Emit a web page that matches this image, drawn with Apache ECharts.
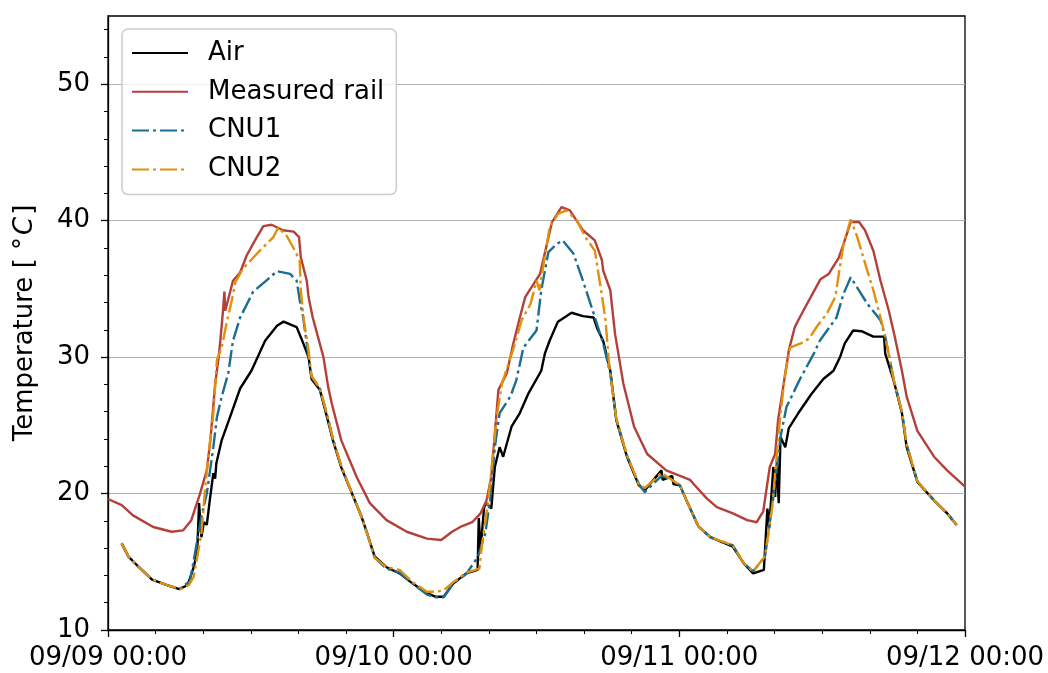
<!DOCTYPE html>
<html>
<head>
<meta charset="utf-8">
<script src="https://cdn.jsdelivr.net/npm/echarts@6/dist/echarts.min.js"></script>
<style>html,body{margin:0;padding:0;background:#fff;}#c{width:1048px;height:673px;}</style>
</head>
<body>
<div id="c"></div>
<script>
// ---- data (hours since 09/09 00:00, temperature in °C) ----
const seriesNames = ['Air', 'Measured rail', 'CNU1', 'CNU2'];
const xTickLabels = ['09/09 00:00', '09/10 00:00', '09/11 00:00', '09/12 00:00'];
const yMajorTicks = [10, 20, 30, 40, 50];
const yMinorTicks = [12, 14, 16, 18, 22, 24, 26, 28, 32, 34, 36, 38, 42, 44, 46, 48, 52, 54];

const air = [[1.15,16.35],[1.7,15.4],[2.6,14.6],[3.7,13.7],[4.9,13.3],[6.0,13.0],[6.7,13.3],[7.2,14.6],[7.5,15.8],[7.65,19.3],[7.85,16.8],[8.05,17.9],[8.3,17.7],[8.55,19.5],[8.85,21.5],[9.0,21.1],[9.1,22.2],[9.55,23.9],[10.25,25.6],[11.1,27.7],[12.05,29.0],[13.2,31.2],[14.2,32.3],[14.75,32.6],[15.85,32.2],[16.25,31.35],[16.85,30.0],[17.1,28.4],[17.8,27.6],[18.4,25.6],[18.9,23.9],[19.6,21.9],[20.5,20.0],[21.3,18.3],[21.8,17.0],[22.4,15.4],[23.4,14.6],[24.5,14.15],[25.6,13.4],[26.8,12.7],[27.5,12.44],[28.2,12.44],[29.0,13.4],[30.1,14.15],[31.05,14.4],[31.15,18.2],[31.3,15.9],[31.6,19.0],[31.8,19.3],[32.2,18.9],[32.5,21.95],[32.9,23.4],[33.2,22.7],[33.9,24.9],[34.6,25.9],[35.3,27.3],[36.4,29.0],[36.7,30.25],[37.1,31.2],[37.8,32.6],[38.95,33.25],[39.9,33.0],[40.8,32.9],[41.1,32.1],[41.6,31.2],[42.2,29.0],[42.7,25.4],[43.6,22.7],[44.6,20.6],[45.1,20.25],[46.5,21.7],[46.6,21.0],[47.4,21.3],[47.5,20.7],[48.05,20.6],[48.6,19.5],[49.6,17.6],[50.6,16.8],[52.5,16.1],[53.4,14.9],[54.2,14.15],[55.1,14.4],[55.4,18.9],[55.55,17.5],[55.9,21.95],[56.05,19.75],[56.2,22.4],[56.35,19.3],[56.5,24.15],[56.9,23.4],[57.2,24.8],[58.0,25.9],[59.1,27.3],[60.1,28.4],[60.95,29.0],[61.5,30.0],[61.9,31.0],[62.6,31.95],[63.3,31.9],[64.3,31.5],[65.2,31.5],[65.3,30.25],[66.0,28.3],[66.7,25.9],[67.1,23.4],[68.0,20.85],[69.4,19.5],[70.5,18.55],[71.3,17.7]];

const measuredRail = [[0,19.6],[1.15,19.15],[2.1,18.4],[3.8,17.55],[5.35,17.2],[6.3,17.3],[7.0,18.05],[7.7,19.9],[8.3,21.7],[8.6,23.9],[9.0,28.0],[9.3,30.0],[9.5,31.8],[9.65,33.3],[9.78,34.8],[9.85,33.4],[10.5,35.6],[11.1,36.2],[11.65,37.45],[12.35,38.55],[13.05,39.6],[13.75,39.7],[14.7,39.3],[15.6,39.2],[16.05,38.8],[16.2,37.3],[16.7,35.6],[16.85,34.4],[17.2,32.9],[18.1,30.0],[18.5,27.8],[18.8,26.6],[19.6,23.9],[20.9,21.2],[22.0,19.3],[23.4,18.05],[25.1,17.2],[26.8,16.7],[28.0,16.6],[28.9,17.2],[29.6,17.55],[30.6,17.9],[31.3,18.55],[31.8,19.5],[32.2,21.2],[32.5,24.4],[32.8,27.6],[33.5,28.8],[34.05,31.0],[34.6,32.9],[35.05,34.4],[36.3,36.1],[37.3,39.9],[38.1,41.0],[38.8,40.75],[39.9,39.3],[40.9,38.55],[41.5,37.1],[41.6,36.35],[42.2,34.9],[42.6,31.7],[43.3,28.05],[44.2,24.9],[45.3,22.9],[46.9,21.7],[47.9,21.35],[48.9,21.0],[49.2,20.7],[50.3,19.65],[51.15,19.0],[52.5,18.55],[53.7,18.05],[54.5,17.9],[55.05,18.7],[55.6,21.95],[56.05,22.9],[56.3,25.4],[56.6,27.1],[57.2,30.5],[57.7,32.2],[58.2,33.05],[59.85,35.7],[60.55,36.1],[61.4,37.3],[61.8,38.3],[62.4,39.9],[63.1,39.9],[63.6,39.3],[64.3,37.8],[64.9,35.6],[65.6,33.4],[66.1,31.5],[66.7,29.0],[67.1,27.1],[68.0,24.6],[69.4,22.7],[70.5,21.7],[72,20.5]];

const cnu1 = [[1.15,16.35],[1.7,15.4],[2.6,14.6],[3.7,13.7],[4.9,13.3],[6.0,13.0],[6.9,13.6],[7.3,15.6],[7.85,18.3],[8.3,20.0],[8.85,23.4],[9.15,25.6],[9.55,27.1],[10.1,28.8],[10.5,31.2],[11.1,32.9],[12.2,34.8],[13.3,35.6],[14.2,36.3],[15.3,36.1],[15.85,35.6],[16.1,34.2],[16.4,32.9],[16.85,30.0],[17.1,28.6],[17.8,27.7],[18.4,25.8],[18.9,24.0],[19.6,22.0],[20.5,20.0],[21.3,18.3],[21.8,17.0],[22.4,15.3],[23.4,14.5],[24.5,14.2],[25.6,13.4],[26.8,12.6],[27.5,12.4],[28.2,12.4],[29.0,13.4],[30.1,14.1],[31.1,15.4],[31.7,17.1],[32.1,19.5],[32.5,23.4],[32.9,25.9],[33.8,27.1],[34.3,28.3],[34.9,30.7],[36.0,31.95],[36.4,34.9],[37.0,37.7],[37.7,38.3],[38.2,38.55],[39.1,37.6],[39.9,35.6],[40.8,33.2],[41.6,31.0],[42.2,28.8],[42.7,25.5],[43.6,22.8],[44.6,20.7],[45.1,20.1],[46.5,21.3],[47.4,21.0],[48.05,20.6],[48.6,19.5],[49.6,17.6],[50.6,16.8],[52.5,16.2],[53.4,14.9],[54.2,14.3],[55.2,15.4],[55.9,19.75],[56.5,24.15],[57.0,26.35],[58.2,28.5],[59.3,30.25],[59.8,31.2],[61.2,32.9],[61.8,34.65],[62.4,35.85],[63.8,33.9],[64.9,32.7],[65.3,31.5],[66.0,28.4],[66.7,26.0],[67.1,23.6],[68.0,20.9],[69.4,19.5],[70.5,18.55],[71.3,17.7]];

const cnu2 = [[1.15,16.35],[1.7,15.4],[2.6,14.6],[3.7,13.7],[4.9,13.3],[6.1,13.0],[6.8,13.3],[7.2,13.9],[7.85,17.1],[8.15,20.25],[8.45,22.9],[8.85,25.9],[9.15,29.8],[9.55,30.7],[9.95,32.45],[10.4,34.15],[10.7,35.5],[11.35,36.5],[12.75,37.8],[13.9,38.8],[14.3,39.5],[15.0,38.9],[15.55,38.05],[16.1,37.1],[16.2,34.9],[16.45,32.7],[16.85,30.5],[17.1,28.6],[17.8,27.7],[18.4,25.8],[18.9,24.0],[19.6,22.0],[20.5,20.0],[21.3,18.3],[21.8,17.0],[22.4,15.3],[23.4,14.6],[24.5,14.4],[25.6,13.5],[26.8,12.8],[27.5,12.8],[28.2,12.9],[29.0,13.5],[30.1,14.2],[31.2,14.5],[31.4,16.1],[31.95,19.5],[32.4,23.4],[32.7,25.9],[33.1,28.05],[34.2,31.0],[34.75,32.7],[35.5,33.9],[36.0,35.6],[36.25,34.9],[36.6,36.85],[37.1,39.5],[37.8,40.5],[38.5,40.75],[39.4,40.0],[40.1,38.8],[40.9,37.8],[41.3,35.6],[41.55,34.2],[41.8,32.7],[42.1,29.5],[42.7,25.5],[43.6,22.8],[44.6,20.7],[45.1,20.4],[46.5,21.5],[47.4,21.0],[48.05,20.6],[48.6,19.5],[49.6,17.6],[50.6,16.8],[52.5,16.2],[53.4,14.9],[54.2,14.3],[55.2,15.4],[55.8,19.0],[56.5,25.9],[56.9,28.8],[57.3,30.7],[58.2,31.0],[58.9,31.35],[59.6,32.3],[60.4,33.2],[61.1,34.4],[61.4,36.1],[61.8,38.3],[62.4,40.1],[62.95,38.8],[63.7,36.6],[64.3,34.9],[64.9,32.9],[65.3,31.5],[66.0,28.4],[66.7,26.0],[67.1,23.6],[68.0,20.9],[69.4,19.5],[70.5,18.55],[71.3,17.7]];

const FONT = 'DejaVu Sans';
const dashDot = [17, 4, 3, 4];
const chart = echarts.init(document.getElementById('c'), null, {renderer: 'canvas'});

function mkSeries(name, data, color, type) {
  return {
    name: name, type: 'line', data: data, symbol: 'none', showSymbol: false,
    xAxisIndex: 0, yAxisIndex: 0, animation: false,
    lineStyle: {color: color, width: 2.4, type: type},
    itemStyle: {color: color}
  };
}

chart.setOption({
  animation: false,
  backgroundColor: '#fff',
  grid: {left: 108, right: 83, top: 16, bottom: 43, show: true, borderColor: '#000', borderWidth: 1.3, backgroundColor: 'transparent'},
  legend: {
    orient: 'vertical', left: 122, top: 29,
    data: seriesNames,
    itemWidth: 56, itemHeight: 14, itemGap: 12.8,
    padding: [11, 12, 12, 9],
    backgroundColor: 'rgba(255,255,255,0.8)',
    borderColor: '#cccccc', borderWidth: 1.5, borderRadius: 6,
    itemStyle: {opacity: 0},
    textStyle: {fontSize: 26, fontFamily: FONT, color: '#000', lineHeight: 26, padding: [0, 0, 0, 15]}
  },
  xAxis: {
    type: 'value', min: 0, max: 72, interval: 24,
    axisLine: {show: true, lineStyle: {color: '#000', width: 1.3}},
    axisTick: {show: true, length: 7, lineStyle: {color: '#000', width: 1.3}},
    minorTick: {show: true, splitNumber: 6, length: 4, lineStyle: {color: '#000', width: 1}},
    axisLabel: {
      fontSize: 26, fontFamily: FONT, color: '#000', margin: 15,
      showMinLabel: true, showMaxLabel: true,
      formatter: function (v) { return xTickLabels[Math.round(v / 24)] || ''; }
    },
    splitLine: {show: false}
  },
  yAxis: [
    {
      type: 'value', min: 10, max: 55, interval: 10,
      name: '{a|Temperature [ °}{i|C}{a|]}',
      nameLocation: 'middle', nameGap: 70, nameRotate: 90,
      nameTextStyle: {
        fontSize: 26, fontFamily: FONT, color: '#000',
        rich: {
          a: {fontSize: 26, fontFamily: FONT, color: '#000'},
          i: {fontSize: 26, fontFamily: FONT, color: '#000', fontStyle: 'italic', padding: [0, 2, 0, 2]}
        }
      },
      axisLine: {show: true, lineStyle: {color: '#000', width: 1.3}},
      axisTick: {show: true, length: 7, lineStyle: {color: '#000', width: 1.3}, customValues: yMajorTicks},
      axisLabel: {fontSize: 26, fontFamily: FONT, color: '#000', margin: 18, customValues: yMajorTicks},
      splitLine: {show: true, lineStyle: {color: '#b0b0b0', width: 1}}
    },
    {
      type: 'value', min: 10, max: 55, position: 'left',
      axisLine: {show: false},
      axisTick: {show: true, length: 4, lineStyle: {color: '#000', width: 1}, customValues: yMinorTicks},
      axisLabel: {show: false},
      splitLine: {show: false}
    }
  ],
  series: [
    mkSeries(seriesNames[0], air, '#000000', 'solid'),
    mkSeries(seriesNames[1], measuredRail, '#b2403b', 'solid'),
    mkSeries(seriesNames[2], cnu1, '#1b6e8e', dashDot),
    mkSeries(seriesNames[3], cnu2, '#e38f0c', dashDot)
  ]
});
</script>
</body>
</html>
